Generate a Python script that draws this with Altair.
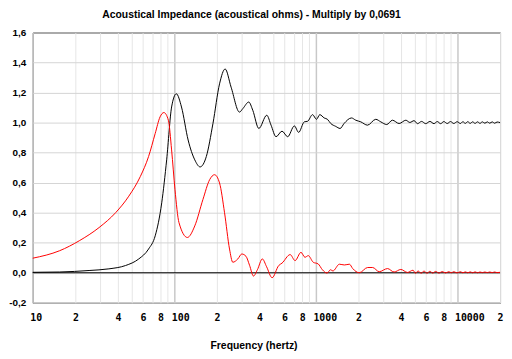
import altair as alt
import pandas as pd

# Resistance (black) curve: frequency (Hz) and value
freq_black = [10, 15.5, 25, 34.5, 45.2, 56.1, 65.8, 73.3, 81.5, 88.3, 95.7, 103.3, 112.4,
              125.2, 139.5, 152.2, 168.3, 187.5, 208.7, 228.6, 251.9, 288.5, 304.7, 335.7,
              358.4, 395.4, 449.9, 482.5, 523.1, 576.5, 632.1, 704.9, 755.5, 828.5, 874.5,
              947.3, 1010.5, 1066, 1145, 1207, 1274, 1381, 1484, 1582, 1785, 1914, 2077,
              2316, 2649, 2875, 3166, 3472, 3873, 4324, 4611, 4942,
              5224, 5584, 5972, 6394, 6828, 7209, 7606, 8020, 8476, 8937, 9425, 9955,
              10497, 10923, 11367, 11828, 12308, 12808, 13327, 13868, 14431, 15017,
              15627, 16261, 16921, 17608, 18323, 19066, 20000]
z_black = [0.003, 0.005, 0.015, 0.026, 0.048, 0.092, 0.158, 0.246, 0.466, 0.752, 1.104, 1.192, 1.104,
           0.884, 0.752, 0.705, 0.774, 0.994, 1.258, 1.357, 1.236, 1.07, 1.093, 1.137,
           1.082, 0.961, 1.049, 0.983, 0.906, 0.943, 0.906, 0.978, 0.935, 1.005, 1.009,
           1.053, 1.022, 1.053, 1.031, 1.022, 0.994, 0.975, 0.961, 0.994, 1.031, 1.016, 1.005,
           0.983, 1.022, 1.005, 0.987, 1.016, 0.994, 1.016, 1.001, 1.013,
           0.993, 1.008, 0.993, 1.008, 0.993, 1.007, 0.993, 1.007, 0.994, 1.007, 0.994,
           1.006, 0.994, 1.006, 0.995, 1.006, 0.995, 1.005, 0.995, 1.005, 0.995, 1.005,
           0.996, 1.005, 0.996, 1.005, 0.996, 1.004, 1.0]

# Reactance (red) curve
freq_red = [10, 15.5, 21.3, 29.4, 38.5, 47.7, 57.6, 65.8, 73.3, 79.3, 84.4, 90.8, 95.7, 101.1,
            107.9, 123.7, 139.5, 159.3, 177.7, 192.4, 208.7, 226.4, 245.5, 259, 281, 299.7,
            320.7, 340, 362.6, 386.3, 418.6, 448.7, 490.7, 546.4, 576.5, 658.4, 713.1, 785,
            837.5, 884.3, 958, 1038, 1112, 1199, 1270, 1319, 1467, 1591, 1725, 1821, 2027,
            2321, 2519, 2801, 3209, 3570, 3982, 4441, 4860,
            5047, 5277, 5537, 5808, 6096, 6398, 6683, 7016, 7400, 7810, 8241, 8690, 9052,
            9425, 9955, 10497, 10923, 11367, 11828, 12308, 12808, 13327, 13868, 14431,
            15017, 15627, 16261, 16921, 17608, 18323, 19066, 20000]
z_red = [0.097, 0.147, 0.213, 0.301, 0.40, 0.51, 0.642, 0.774, 0.928, 1.038, 1.067, 1.016, 0.818, 0.554,
         0.334, 0.235, 0.312, 0.488, 0.62, 0.653, 0.598, 0.40, 0.158, 0.07, 0.092, 0.125,
         0.11, 0.05, -0.022, 0.02, 0.092, 0.04, -0.033, 0.048, 0.064, 0.121, 0.081, 0.136,
         0.103, 0.114, 0.07, 0.059, 0.02, -0.002, 0.02, 0.012, 0.057, 0.052, 0.057, 0.028, 0.0,
         0.035, 0.035, 0.007, 0.028, 0.005, 0.022, 0.002, 0.017,
         -0.003, 0.012, -0.003, 0.011, -0.003, 0.010, -0.002, 0.009, -0.002, 0.008, -0.001, 0.007, 0.0,
         0.007, -0.001, 0.007, 0.0, 0.006, 0.0, 0.006, 0.0, 0.006, 0.0, 0.005,
         0.001, 0.005, 0.001, 0.005, 0.001, 0.005, 0.001, 0.003]

# Axis ticks
x_grid = [10, 20, 30, 40, 50, 60, 70, 80, 90,
          100, 200, 300, 400, 500, 600, 700, 800, 900,
          1000, 2000, 3000, 4000, 5000, 6000, 7000, 8000, 9000,
          10000, 20000]
x_label_vals = [10, 20, 40, 60, 80, 100, 200, 400, 600, 800, 1000, 2000, 4000, 6000, 8000, 10000, 20000]
x_label_text = ["10", "2", "4", "6", "8", "100", "2", "4", "6", "8", "1000", "2", "4", "6", "8", "10000", "2"]
x_major = [100, 1000, 10000]
y_ticks = [-0.2, 0.0, 0.2, 0.4, 0.6, 0.8, 1.0, 1.2, 1.4, 1.6]
y_labels = ["-0,2", "0,0", "0,2", "0,4", "0,6", "0,8", "1,0", "1,2", "1,4", "1,6"]

df = pd.concat([
    pd.DataFrame({"f": freq_black, "z": z_black, "s": "resistance"}),
    pd.DataFrame({"f": freq_red, "z": z_red, "s": "reactance"}),
])

label_expr = " : ".join(
    f"datum.value == {v} ? '{t}'" for v, t in zip(x_label_vals, x_label_text)
) + " : ''"
y_label_expr = " : ".join(
    f"abs(datum.value - ({v})) < 0.001 ? '{t}'" for v, t in zip(y_ticks, y_labels)
) + " : ''"
major_test = " || ".join(f"datum.value == {v}" for v in x_major)

FONT = "DejaVu Sans Mono"
TFONT = "Liberation Sans"

x_axis = alt.Axis(
    values=x_grid, labelExpr=label_expr, ticks=False, domain=False,
    gridColor={"condition": {"test": major_test, "value": "#c8c8c8"}, "value": "#e6e6e6"},
    gridWidth={"condition": {"test": major_test, "value": 1.5}, "value": 1},
    labelFont=FONT, labelFontWeight="bold", labelFontSize=10, labelColor="#000",
    labelAlign="left", labelOffset=-3, labelBaseline="top", labelPadding=10,
    labelOverlap=False, labelFlush=False, labelBound=False,
    title="Frequency (hertz)", titleFont=TFONT, titleFontSize=10.5, titleFontWeight="bold",
    titleColor="#000", titleX=223, titleY=46, titleBaseline="alphabetic", titleAnchor="middle",
    titleAlign="center",
)
y_axis = alt.Axis(
    values=y_ticks, ticks=False, domain=False, gridColor="#d4d4d4", gridWidth=1,
    labelExpr=y_label_expr,
    labelFont=TFONT, labelFontWeight="bold", labelFontSize=10, labelColor="#000",
    labelPadding=7, labelOverlap=False, labelBound=False, labelFlush=False, title=None,
)
x_scale = alt.Scale(type="log", domain=[10, 20000], nice=False)
y_scale = alt.Scale(domain=[-0.2, 1.6], nice=False, zero=False)

zero = alt.Chart(pd.DataFrame({"z": [0.0]})).mark_rule(color="#000000", strokeWidth=1).encode(
    y=alt.Y("z:Q", scale=y_scale, axis=y_axis)
)

lines = alt.Chart(df).mark_line(strokeWidth=1, interpolate="monotone").encode(
    x=alt.X("f:Q", scale=x_scale, axis=x_axis),
    y=alt.Y("z:Q", scale=y_scale, axis=y_axis),
    color=alt.Color("s:N", scale=alt.Scale(domain=["resistance", "reactance"],
                                           range=["#000000", "#ff0000"]), legend=None),
)

chart = alt.layer(zero, lines).properties(
    width=472, height=273,
    title=alt.TitleParams(
        "Acoustical Impedance (acoustical ohms) - Multiply by 0,0691",
        font=TFONT, fontSize=10.5, fontWeight="bold", color="#000",
        anchor="middle", dx=-15, offset=7,
    ),
    background="white",
    autosize=alt.AutoSizeParams(type="none"),
    padding={"left": 25, "top": 23, "right": 4, "bottom": 54},
).configure_view(stroke="#000000", strokeWidth=1)

chart.save("out.html", embed_options={"renderer": "svg", "actions": False})
